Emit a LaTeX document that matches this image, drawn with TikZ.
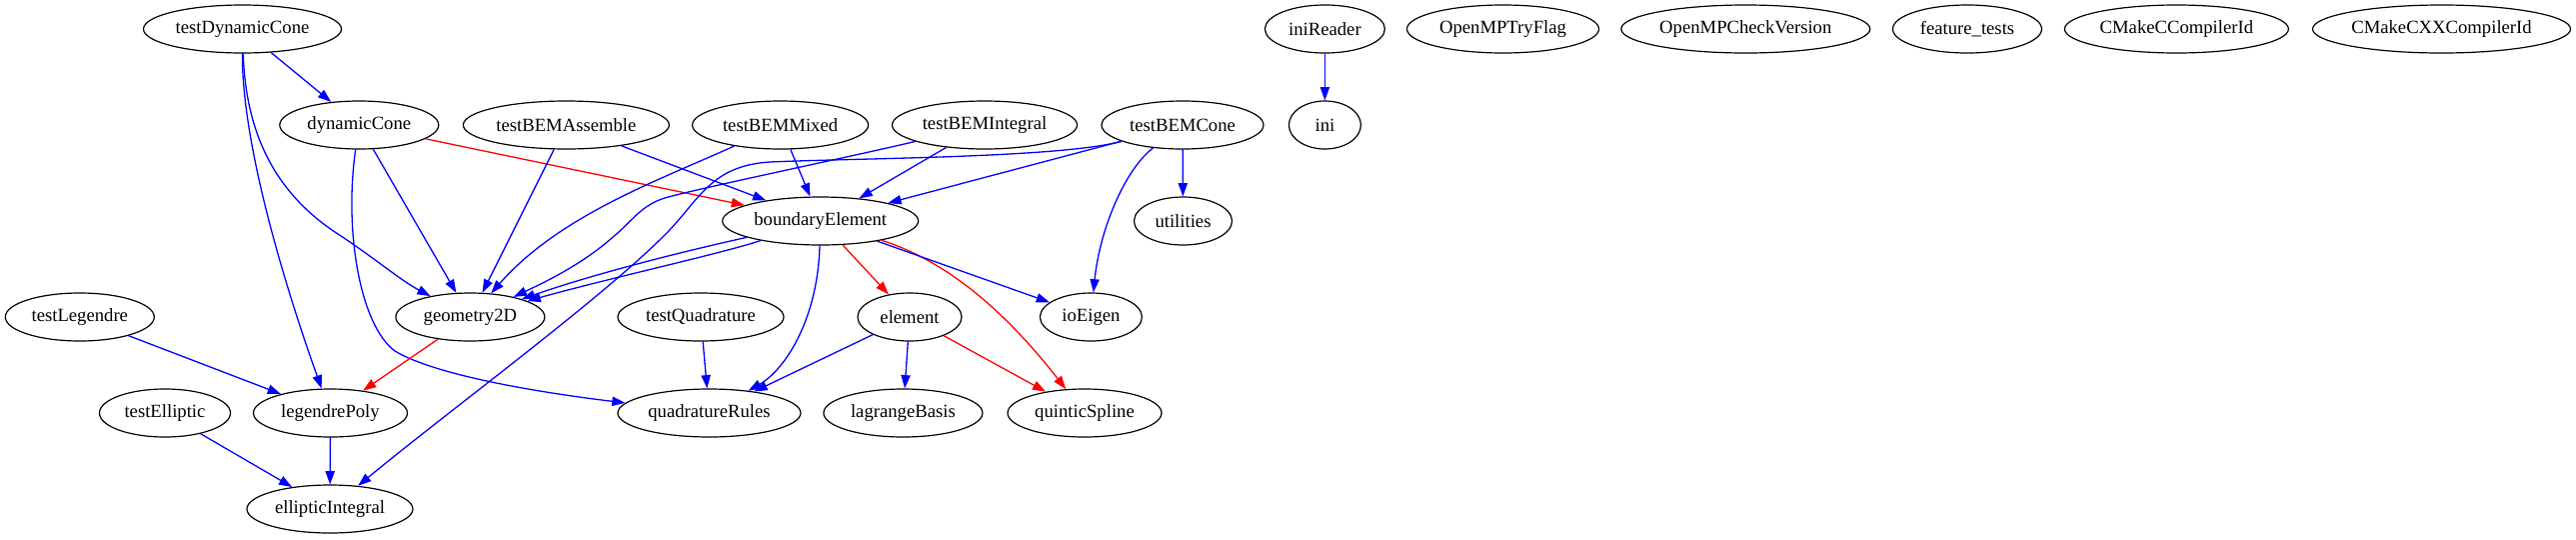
\documentclass[tikz,border=0pt]{standalone}
\usepackage{fontspec}
\setmainfont{Liberation Serif}
\usetikzlibrary{arrows.meta,shapes.geometric}
\definecolor{gblue}{RGB}{0,0,255}
\definecolor{gred}{RGB}{255,0,0}
\tikzset{
  gnode/.style={ellipse, draw=black, line width=1.2pt, minimum height=48pt, inner sep=0pt,
    font=\fontsize{18.67pt}{22pt}\selectfont},
  bl/.style={draw=gblue, line width=1.3pt, -{Triangle[length=13.3pt,width=9.3pt]}, fill=none},
  rd/.style={draw=gred, line width=1.3pt, -{Triangle[length=13.3pt,width=9.3pt]}, fill=none}
}
\begin{document}
\begin{tikzpicture}[x=1pt,y=-1pt]
\useasboundingbox (0,0) rectangle (2577,539);
\node[gnode, minimum width=198pt] (tDC) at (242.5,29) {testDynamicCone};
\node[gnode, minimum width=159pt] (dC) at (359.3,125) {dynamicCone};
\node[gnode, minimum width=206pt] (tBA) at (566.4,125) {testBEMAssemble};
\node[gnode, minimum width=176pt] (tBM) at (780.6,125) {testBEMMixed};
\node[gnode, minimum width=185pt] (tBI) at (985,125) {testBEMIntegral};
\node[gnode, minimum width=162pt] (tBC) at (1183,125) {testBEMCone};
\node[gnode, minimum width=196pt] (bE) at (820.7,221) {boundaryElement};
\node[gnode, minimum width=98pt] (ut) at (1183.5,221) {utilities};
\node[gnode, minimum width=149pt] (g2) at (470.4,317) {geometry2D};
\node[gnode, minimum width=149pt] (tL) at (79.8,317) {testLegendre};
\node[gnode, minimum width=166pt] (tQ) at (701,317) {testQuadrature};
\node[gnode, minimum width=104pt] (el) at (910,317) {element};
\node[gnode, minimum width=102pt] (io) at (1091.4,317) {ioEigen};
\node[gnode, minimum width=131pt] (tE) at (165,413) {testElliptic};
\node[gnode, minimum width=154pt] (lP) at (330.5,413) {legendrePoly};
\node[gnode, minimum width=183pt] (qR) at (709.5,413) {quadratureRules};
\node[gnode, minimum width=159pt] (lB) at (903.4,413) {lagrangeBasis};
\node[gnode, minimum width=154pt] (qS) at (1085,413) {quinticSpline};
\node[gnode, minimum width=166pt] (eI) at (330,509) {ellipticIntegral};
\node[gnode, minimum width=120pt] (iR) at (1325.4,29) {iniReader};
\node[gnode, minimum width=72pt] (ini) at (1325.4,125) {ini};
\node[gnode, minimum width=192pt] (OMT) at (1503.5,29) {OpenMPTryFlag};
\node[gnode, minimum width=249pt] (OMC) at (1746.3,29) {OpenMPCheckVersion};
\node[gnode, minimum width=149pt] (ft) at (1968,29) {feature\_tests};
\node[gnode, minimum width=224pt] (CC) at (2177.4,29) {CMakeCCompilerId};
\node[gnode, minimum width=258pt] (CXX) at (2442.5,29) {CMakeCXXCompilerId};

\draw[bl] (tDC) -- (dC);
\draw[bl] (tDC) .. controls (242,150) and (290,300) .. (lP);
\draw[bl] (tDC) .. controls (246,140) and (280,195) .. (335,232) .. controls (375,258) and (400,280) .. (g2);
\draw[rd] (dC) -- (bE);
\draw[bl] (dC) -- (g2);
\draw[bl] (dC) .. controls (344,230) and (360,325) .. (395,351) .. controls (440,378) and (560,395) .. (qR);
\draw[bl] (tBA) -- (g2);
\draw[bl] (tBA) -- (bE);
\draw[bl] (tBM) .. controls (660,180) and (560,215) .. (g2);
\draw[bl] (tBM) -- (bE);
\draw[bl] (tBI) .. controls (850,157) and (700,188) .. (665,198) .. controls (640,206) and (632,222) .. (612,238) .. controls (585,262) and (550,280) .. (g2);
\draw[bl] (tBI) -- (bE);
\draw[bl] (tBC) .. controls (1060,158) and (860,158) .. (770,162) .. controls (710,166) and (700,200) .. (665,235) .. controls (600,300) and (450,410) .. (eI);
\draw[bl] (tBC) -- (bE);
\draw[bl] (tBC) -- (ut);
\draw[bl] (tBC) .. controls (1125,170) and (1100,230) .. (io);
\draw[bl] (bE) .. controls (690,250) and (600,272) .. (g2);
\draw[bl] (bE) .. controls (720,254) and (610,278) .. (g2);
\draw[rd] (bE) -- (el);
\draw[rd] (bE) .. controls (960,265) and (1020,330) .. (qS);
\draw[bl] (bE) -- (io);
\draw[bl] (bE) .. controls (818,320) and (785,370) .. (qR);
\draw[rd] (g2) -- (lP);
\draw[bl] (tL) -- (lP);
\draw[bl] (tQ) -- (qR);
\draw[bl] (el) -- (qR);
\draw[bl] (el) -- (lB);
\draw[rd] (el) -- (qS);
\draw[bl] (tE) -- (eI);
\draw[bl] (lP) -- (eI);
\draw[bl] (iR) -- (ini);
\end{tikzpicture}
\end{document}
